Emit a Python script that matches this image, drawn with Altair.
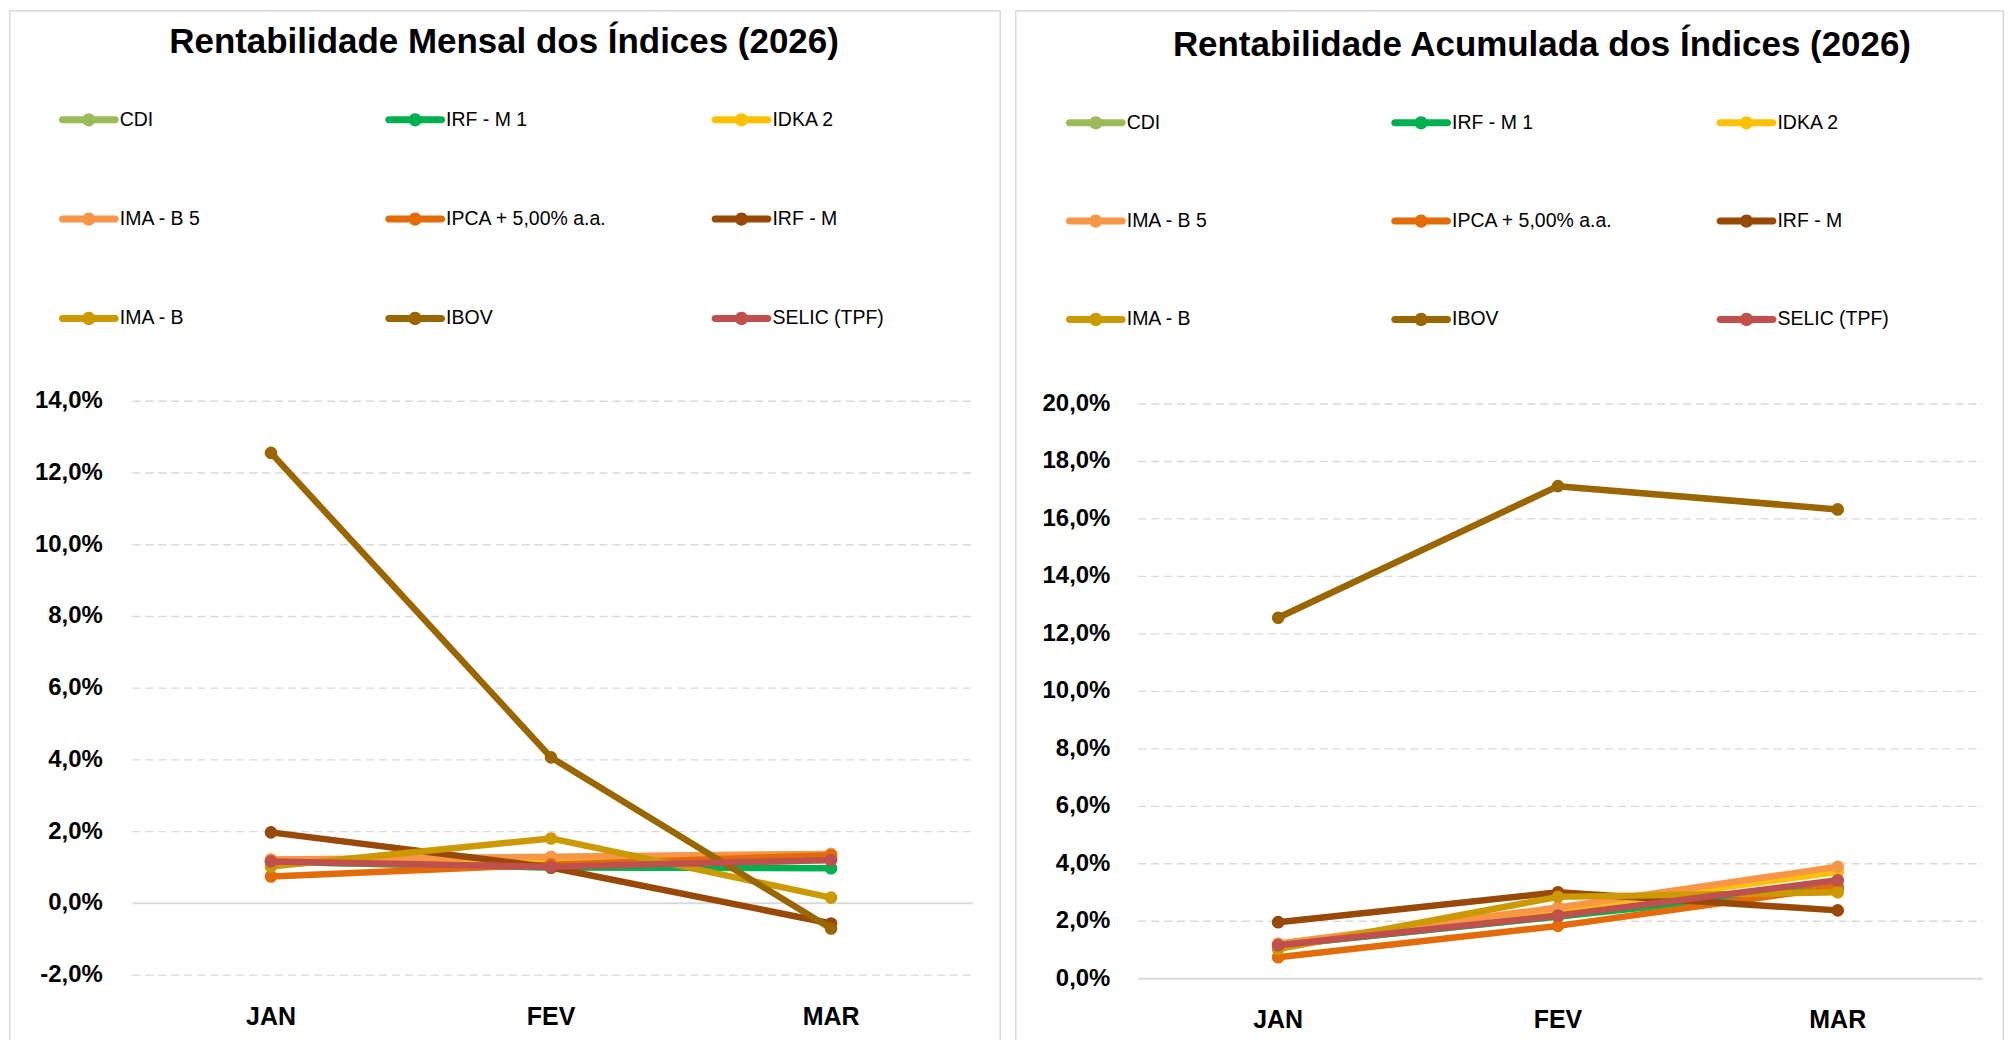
import altair as alt
import pandas as pd

months = ["JAN", "FEV", "MAR"]
series = ["CDI", "IRF - M 1", "IDKA 2", "IMA - B 5", "IPCA + 5,00% a.a.",
          "IRF - M", "IMA - B", "IBOV", "SELIC (TPF)"]
colors = ["#9BBB59", "#00B050", "#FFC000", "#F79646", "#E36C09",
          "#984807", "#CC9900", "#996600", "#C0504D"]

# Rentabilidade mensal (%)
cdi_mensal = [1.16, 1.00, 1.21]
irfm1_mensal = [1.16, 1.00, 0.98]
idka2_mensal = [1.22, 1.18, 1.28]
imab5_mensal = [1.22, 1.30, 1.38]
ipca_mensal = [0.75, 1.08, 1.34]
irfm_mensal = [1.98, 1.00, -0.56]
imab_mensal = [1.03, 1.81, 0.16]
ibov_mensal = [12.56, 4.07, -0.70]
selic_mensal = [1.17, 1.02, 1.21]

# Rentabilidade acumulada (%)
cdi_acum = [1.16, 2.17, 3.40]
irfm1_acum = [1.16, 2.17, 3.17]
idka2_acum = [1.22, 2.41, 3.72]
imab5_acum = [1.22, 2.48, 3.90]
ipca_acum = [0.75, 1.84, 3.20]
irfm_acum = [1.97, 3.01, 2.38]
imab_acum = [1.03, 2.85, 3.01]
ibov_acum = [12.56, 17.14, 16.33]
selic_acum = [1.17, 2.20, 3.43]

left_ticks = [-2, 0, 2, 4, 6, 8, 10, 12, 14]
left_tick_labels = ["-2,0%", "0,0%", "2,0%", "4,0%", "6,0%", "8,0%", "10,0%", "12,0%", "14,0%"]
right_ticks = [0, 2, 4, 6, 8, 10, 12, 14, 16, 18, 20]
right_tick_labels = ["0,0%", "2,0%", "4,0%", "6,0%", "8,0%", "10,0%", "12,0%",
                     "14,0%", "16,0%", "18,0%", "20,0%"]

title_left = "Rentabilidade Mensal dos Índices (2026)"
title_right = "Rentabilidade Acumulada dos Índices (2026)"

FONT = "Liberation Sans"
GRID = "#D9D9D9"
SYMBOL = ("M-0.883,-0.117 L0.883,-0.117 A0.117,0.117 0 0,1 0.883,0.117 "
          "L-0.883,0.117 A0.117,0.117 0 0,1 -0.883,-0.117 Z "
          "M0.22,0 A0.22,0.22 0 1,1 -0.22,0 A0.22,0.22 0 1,1 0.22,0 Z")


def panel(title, values, ticks, tick_labels, ydom, yrange, xrange, gx0, gx1,
          label_x, month_y, title_x, title_y, leg_x, leg_y, W, H):
    ys = alt.Scale(domain=ydom, range=yrange, nice=False, zero=False)
    xs = alt.Scale(type="point", domain=months, range=xrange, padding=0)
    layers = []

    tdf = pd.DataFrame({"v": ticks, "t": tick_labels})
    grid_df = tdf[tdf["v"] != 0]
    zero_df = tdf[tdf["v"] == 0]
    layers.append(alt.Chart(grid_df).mark_rule(color=GRID, strokeWidth=1.4, strokeDash=[8, 5]).encode(
        y=alt.Y("v:Q", scale=ys, axis=None), x=alt.value(gx0), x2=alt.value(gx1)))
    layers.append(alt.Chart(zero_df).mark_rule(color=GRID, strokeWidth=2).encode(
        y=alt.Y("v:Q", scale=ys, axis=None), x=alt.value(gx0), x2=alt.value(gx1)))
    layers.append(alt.Chart(tdf).mark_text(align="right", baseline="middle", font=FONT,
                                           fontWeight="bold", fontSize=24, color="#000000").encode(
        y=alt.Y("v:Q", scale=ys, axis=None), x=alt.value(label_x), text="t:N"))

    mdf = pd.DataFrame({"m": months})
    layers.append(alt.Chart(mdf).mark_text(align="center", baseline="middle", font=FONT,
                                           fontWeight="bold", fontSize=25, color="#000000").encode(
        x=alt.X("m:N", scale=xs, axis=None), y=alt.value(month_y), text="m:N"))

    for name, col, vals in zip(series, colors, values):
        df = pd.DataFrame({"m": months, "v": vals})
        layers.append(alt.Chart(df).mark_line(
            color=col, strokeWidth=6.5, strokeCap="round", strokeJoin="round",
            point=alt.OverlayMarkDef(filled=True, size=160, color=col, strokeWidth=0)).encode(
            x=alt.X("m:N", scale=xs, axis=None, sort=months),
            y=alt.Y("v:Q", scale=ys, axis=None)))

    ldf = pd.DataFrame({"name": series,
                        "col": [i % 3 for i in range(len(series))],
                        "row": [i // 3 for i in range(len(series))]})
    lx = alt.X("col:Q", scale=alt.Scale(domain=[0, 2], range=leg_x, nice=False, zero=False), axis=None)
    ly = alt.Y("row:Q", scale=alt.Scale(domain=[0, 2], range=leg_y, nice=False, zero=False), axis=None)
    layers.append(alt.Chart(ldf).mark_point(shape=SYMBOL, filled=True, size=3600, opacity=1,
                                            strokeWidth=0).encode(
        x=lx, y=ly,
        color=alt.Color("name:N", scale=alt.Scale(domain=series, range=colors), legend=None)))
    layers.append(alt.Chart(ldf).mark_text(align="left", baseline="middle", dx=31, font=FONT,
                                           fontSize=19.5, color="#000000").encode(
        x=lx, y=ly, text="name:N"))

    ttl = pd.DataFrame({"t": [title]})
    layers.append(alt.Chart(ttl).mark_text(align="center", baseline="alphabetic", font=FONT,
                                           fontWeight="bold", fontSize=35, color="#000000").encode(
        x=alt.value(title_x), y=alt.value(title_y), text="t:N"))

    bdf = pd.DataFrame({"b": [0]})
    layers.append(alt.Chart(bdf).mark_rule(color=GRID, strokeWidth=1.5).encode(
        x=alt.value(0.75), y=alt.value(0), y2=alt.value(H)))
    layers.append(alt.Chart(bdf).mark_rule(color=GRID, strokeWidth=1.5).encode(
        x=alt.value(W - 0.75), y=alt.value(0), y2=alt.value(H)))
    layers.append(alt.Chart(bdf).mark_rule(color=GRID, strokeWidth=1.5).encode(
        x=alt.value(0), x2=alt.value(W), y=alt.value(0.75)))

    return alt.layer(*layers).resolve_scale(
        x="independent", y="independent", color="independent").properties(width=W, height=H)


left_vals = [cdi_mensal, irfm1_mensal, idka2_mensal, imab5_mensal, ipca_mensal,
             irfm_mensal, imab_mensal, ibov_mensal, selic_mensal]
right_vals = [cdi_acum, irfm1_acum, idka2_acum, imab5_acum, ipca_acum,
              irfm_acum, imab_acum, ibov_acum, selic_acum]

left = panel(title_left, left_vals, left_ticks, left_tick_labels, [-2, 14], [967, 392],
             [262.5, 823.7], 123.7, 966, 94, 1009, 496, 43, [80, 734], [110, 309], 994, 1032)
right = panel(title_right, right_vals, right_ticks, right_tick_labels, [0, 20], [970.7, 394.7],
              [263.7, 824.4], 123.4, 969.7, 95.6, 1012, 528, 46, [81, 733], [113, 310], 991, 1032)

chart = alt.hconcat(left, right, spacing=12).configure_view(stroke=None).properties(
    padding=0, background="white")

chart.save("out.html", embed_options={"renderer": "svg", "actions": False})
